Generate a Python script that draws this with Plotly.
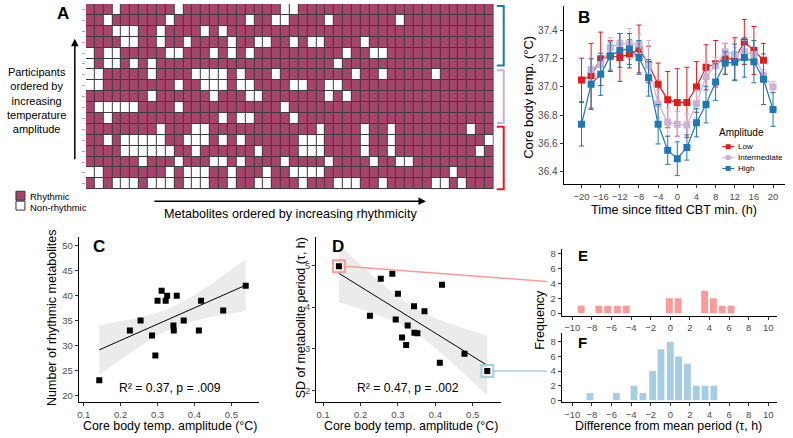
import numpy as np
import plotly.graph_objects as go

W, H = 793, 438

# ---------------- Panel A: 1 = rhythmic, 0 = non-rhythmic (rows: top = highest amplitude)
rhythm_rows = [
    "1110111111011 111111111001 111111111111 11 1111111",
    "1101111110111 111110110011 110111111101 11 1111111",
    "1110001101111 010111111111 111111111111 11 1111111",
    "1111001101101 111011001101 001111011111 11 1111111",
    "0100111110011 101010111111 111101100111 11 1111111",
    "0100101011111 111111111111 111011111111 11 1111111",
    "0011111011110 000101110111 111110110111 11 0111111",
    "0011111111011 000100111100 110011111111 11 1111111",
    "1111111011111 101110011111 110101111111 11 1111111",
    "1000001111011 111111111011 111111111111 11 1111111",
    "1101111111111 110100111101 111111111111 11 1111111",
    "1111111101110 011111111111 101111011011 11 1111011",
    "1101000001100 010101111110 001111011011 11 1111110",
    "1111000000110 111111011110 001111011011 11 1111101",
    "1111110111011 100101111011 110111101100 11 1111111",
    "0011111110100 011011101100 001111111111 11 1101111",
    "1010001000100 011011001110 111000110111 11 0010111",
]

# ---------------- Panel B
time_low = [-20, -18, -16, -14, -12, -10, -8, -6, -4, -2, 0, 2, 4, 6, 8, 10, 12, 14, 16, 18]
low_mean = [37.05, 37.08, 37.20, 37.22, 37.21, 37.235, 37.27, 37.16, 37.02, 36.91,
            36.89, 36.89, 37.00, 37.14, 37.165, 37.20, 37.20, 37.32, 37.26, 37.19]
low_err = [0.155, 0.23, 0.19, 0.11, 0.17, 0.10, 0.17, 0.13, 0.15, 0.20,
           0.24, 0.25, 0.18, 0.16, 0.165, 0.11, 0.15, 0.16, 0.17, 0.12]
time_int = [-18, -16, -14, -12, -10, -8, -6, -4, -2, 0, 2, 4, 6, 8, 10, 12, 14, 16, 18, 20]
int_mean = [37.125, 37.16, 37.28, 37.31, 37.305, 37.305, 37.15, 36.88, 36.75, 36.735,
            36.73, 36.88, 37.075, 37.15, 37.25, 37.23, 37.25, 37.23, 37.085, 37.00]
int_err = [0.08, 0.08, 0.07, 0.07, 0.11, 0.07, 0.18, 0.10, 0.10, 0.09,
           0.08, 0.10, 0.10, 0.06, 0.06, 0.05, 0.08, 0.06, 0.04, 0.04]
time_high = [-20, -18, -16, -14, -12, -10, -8, -6, -4, -2, 0, 2, 4, 6, 8, 10, 12, 14, 16, 18, 20]
high_mean = [36.735, 37.02, 37.09, 37.22, 37.26, 37.27, 37.21, 37.065, 36.735, 36.55, 36.49,
             36.57, 36.745, 36.875, 37.035, 37.17, 37.175, 37.21, 37.18, 37.055, 36.84]
high_err = [0.155, 0.18, 0.15, 0.10, 0.12, 0.11, 0.12, 0.13, 0.14, 0.10, 0.12,
            0.09, 0.10, 0.13, 0.13, 0.08, 0.13, 0.14, 0.15, 0.18, 0.12]
b_xticks = [-20, -16, -12, -8, -4, 0, 4, 8, 12, 16, 20]
b_yticks = [36.4, 36.6, 36.8, 37.0, 37.2, 37.4]

# ---------------- Panels C / D
amplitude = [0.142, 0.225, 0.254, 0.285, 0.294, 0.300, 0.311, 0.322, 0.326,
             0.343, 0.344, 0.352, 0.371, 0.412, 0.418, 0.478, 0.539]
n_rhythmic = [23, 33, 35, 32, 28, 39, 41, 39, 40, 34, 33, 40, 35, 33, 39, 37, 42]
sd_period = [4.98, 3.79, 4.68, 4.80, 3.70, 4.32, 3.27, 3.09, 3.56,
             4.02, 3.38, 3.37, 3.90, 2.66, 4.54, 2.88, 2.46]
amp_ticks = [0.1, 0.2, 0.3, 0.4, 0.5]
c_yticks = [20, 25, 30, 35, 40, 45, 50]
d_yticks = [2, 3, 4, 5]

# ---------------- Panels E / F
diff_e = [-9.1, -7.3, -6.4, -5.4, -4.5, -0.1, 0.8, 3.5, 4.4, 5.3, 6.2]
count_e = [1, 1, 1, 1, 1, 2, 2, 3, 2, 1, 1]
diff_f = [-8.2, -5.5, -3.7, -2.8, -1.8, -0.95, 0.0, 0.85, 1.75, 2.65, 3.55, 4.45]
count_f = [1, 1, 2, 1, 4, 7, 8, 6, 5, 2, 2, 2]
ef_xticks = [-10, -8, -6, -4, -2, 0, 2, 4, 6, 8, 10]
ef_yticks = [0, 2, 4, 6, 8]

# ---------------- styling
FONT = "Liberation Sans, Arial, sans-serif"
MAROON = "#A8436B"
RED, PURP, BLUE = "#E31A1C", "#CAB2D6", "#1F78B4"
PINK, LBLUE = "#FB9A99", "#A6CEE3"
TICKC = "#4D4D4D"


def xd(px):
    return px / W


def yd(py):
    return 1 - py / H


def dom_x(a, b):
    return [xd(a), xd(b)]


def dom_y(top, bottom):
    return [yd(bottom), yd(top)]


def axis(domain, rng, tickvals, fs=9.5, anchor=None, ticktext=None):
    d = dict(domain=domain, range=rng, showline=True, linecolor="black", linewidth=1,
             ticks="outside", ticklen=3, tickwidth=1, tickcolor="#333333", tickangle=0,
             tickvals=tickvals, tickfont=dict(size=fs, color=TICKC, family=FONT),
             showgrid=False, zeroline=False, fixedrange=True, anchor=anchor)
    if ticktext is not None:
        d["ticktext"] = ticktext
    return d


# axis geometry (pixels)
B_X, B_Y = (563, 785), (5, 185)
C_X, CD_Y = (77, 258), (238, 405)
D_X = (315, 500)
EF_X, E_Y, F_Y = (561, 777), (250, 318), (335, 405)
B_XR, B_YR = [-23.75, 22.5], [36.308, 37.576]
C_XR, C_YR = [0.0865, 0.576], [18.6, 51.8]
D_XR, D_YR = [0.0813, 0.575], [1.71, 5.69]
E_XR, E_YR = [-11.1, 10.9], [-0.4, 8.67]
F_YR = [-0.27, 9.22]

fig = go.Figure()

# ---- Panel A heatmap
z = [[int(ch) for ch in row.replace(" ", "")] for row in rhythm_rows]
n_rows, n_cols = len(z), len(z[0])
fig.add_trace(go.Heatmap(z=z, x=list(range(n_cols)), y=list(range(n_rows)),
                         colorscale=[[0, "#FFFFFF"], [1, MAROON]], zmin=0, zmax=1,
                         showscale=False, xgap=1, ygap=1, hoverinfo="skip",
                         xaxis="x", yaxis="y"))


# ---- Panel B
def b_trace(t, m, e, col):
    return go.Scatter(x=t, y=m, mode="lines+markers", xaxis="x2", yaxis="y2",
                      line=dict(color=col, width=1.2),
                      marker=dict(symbol="square", size=7, color=col),
                      error_y=dict(type="data", array=e, visible=True, color=col,
                                   thickness=1, width=2.5),
                      showlegend=False, hoverinfo="skip")


fig.add_trace(b_trace(time_low, low_mean, low_err, RED))
fig.add_trace(b_trace(time_int, int_mean, int_err, PURP))
fig.add_trace(b_trace(time_high, high_mean, high_err, BLUE))


# ---- regression helper
def fit_band(x, y):
    x = np.asarray(x, float)
    y = np.asarray(y, float)
    n = len(x)
    b1, b0 = np.polyfit(x, y, 1)
    xs = np.linspace(x.min(), x.max(), 80)
    yhat = b0 + b1 * xs
    resid = y - (b0 + b1 * x)
    s = np.sqrt(np.sum(resid ** 2) / (n - 2))
    sxx = np.sum((x - x.mean()) ** 2)
    se = s * np.sqrt(1 / n + (xs - x.mean()) ** 2 / sxx)
    t = 2.131
    return xs, yhat, yhat - t * se, yhat + t * se


for xa, ya, yv in (("x3", "y3", n_rhythmic), ("x4", "y4", sd_period)):
    xs, yh, lo, hi = fit_band(amplitude, yv)
    fig.add_trace(go.Scatter(x=list(xs) + list(xs[::-1]), y=list(hi) + list(lo[::-1]),
                             fill="toself", fillcolor="#EBEBEB", line=dict(width=0),
                             mode="lines", xaxis=xa, yaxis=ya, showlegend=False, hoverinfo="skip"))
    fig.add_trace(go.Scatter(x=xs, y=yh, mode="lines", line=dict(color="black", width=1),
                             xaxis=xa, yaxis=ya, showlegend=False, hoverinfo="skip"))

# highlighted participants in D
i_lo = int(np.argmin(amplitude))
i_hi = int(np.argmax(amplitude))
fig.add_trace(go.Scatter(x=[amplitude[i_lo]], y=[sd_period[i_lo]], mode="markers",
                         marker=dict(symbol="square-open", size=12, color=PINK, line=dict(width=2, color=PINK)),
                         xaxis="x4", yaxis="y4", showlegend=False, hoverinfo="skip"))
fig.add_trace(go.Scatter(x=[amplitude[i_hi]], y=[sd_period[i_hi]], mode="markers",
                         marker=dict(symbol="square-open", size=12, color=LBLUE, line=dict(width=2, color=LBLUE)),
                         xaxis="x4", yaxis="y4", showlegend=False, hoverinfo="skip"))

fig.add_trace(go.Scatter(x=amplitude, y=n_rhythmic, mode="markers", xaxis="x3", yaxis="y3",
                         marker=dict(symbol="square", size=6, color="black"),
                         showlegend=False, hoverinfo="skip"))
fig.add_trace(go.Scatter(x=amplitude, y=sd_period, mode="markers", xaxis="x4", yaxis="y4",
                         marker=dict(symbol="square", size=6, color="black"),
                         showlegend=False, hoverinfo="skip"))

# ---- Panels E / F
fig.add_trace(go.Bar(x=diff_e, y=count_e, width=0.7, marker=dict(color=PINK, line=dict(width=0)),
                     xaxis="x5", yaxis="y5", showlegend=False, hoverinfo="skip"))
fig.add_trace(go.Bar(x=diff_f, y=count_f, width=0.7, marker=dict(color=LBLUE, line=dict(width=0)),
                     xaxis="x6", yaxis="y6", showlegend=False, hoverinfo="skip"))

# ---------------- layout
layout = dict(
    width=W, height=H, margin=dict(l=0, r=0, t=0, b=0),
    paper_bgcolor="white", plot_bgcolor="white",
    font=dict(family=FONT, color="black"), showlegend=False,
    xaxis=dict(domain=dom_x(84, 493), range=[-0.5, n_cols - 0.5], visible=False, fixedrange=True),
    yaxis=dict(domain=dom_y(3, 190), range=[n_rows - 0.5, -0.5], showline=False, showgrid=False,
               zeroline=False, ticks="outside", ticklen=3, tickcolor="#AAAAAA",
               tickvals=list(range(n_rows)), showticklabels=False, fixedrange=True),
    xaxis2=axis(dom_x(*B_X), B_XR, b_xticks, fs=9.5, anchor="y2"),
    yaxis2=axis(dom_y(*B_Y), B_YR, b_yticks, fs=10, anchor="x2",
                ticktext=[f"{v:.1f}" for v in b_yticks]),
    xaxis3=axis(dom_x(*C_X), C_XR, amp_ticks, anchor="y3"),
    yaxis3=axis(dom_y(*CD_Y), C_YR, c_yticks, anchor="x3"),
    xaxis4=axis(dom_x(*D_X), D_XR, amp_ticks, anchor="y4"),
    yaxis4=axis(dom_y(*CD_Y), D_YR, d_yticks, anchor="x4"),
    xaxis5=axis(dom_x(*EF_X), E_XR, ef_xticks, anchor="y5"),
    yaxis5=axis(dom_y(*E_Y), E_YR, ef_yticks, anchor="x5"),
    xaxis6=axis(dom_x(*EF_X), E_XR, ef_xticks, anchor="y6"),
    yaxis6=axis(dom_y(*F_Y), F_YR, ef_yticks, anchor="x6"),
)

shapes = []
# heatmap grid-line background
shapes.append(dict(type="rect", xref="x", yref="y", x0=-0.5, x1=n_cols - 0.5, y0=-0.5, y1=n_rows - 0.5,
                   fillcolor="#3C3C3C", line=dict(width=0), layer="below"))


def bracket(top, bottom, col):
    x0, x1 = xd(496), xd(503)
    return dict(type="path", xref="paper", yref="paper",
                path=f"M {x0},{yd(top)} L {x1},{yd(top)} L {x1},{yd(bottom)} L {x0},{yd(bottom)}",
                line=dict(color=col, width=2))


shapes += [bracket(5, 65, BLUE), bracket(70, 123, PURP), bracket(127, 190, RED)]

# A legend swatches
shapes.append(dict(type="rect", xref="paper", yref="paper", x0=xd(14), x1=xd(23), y0=yd(201), y1=yd(192),
                   fillcolor=MAROON, line=dict(color="#333333", width=1)))
shapes.append(dict(type="rect", xref="paper", yref="paper", x0=xd(14), x1=xd(23), y0=yd(211), y1=yd(202),
                   fillcolor="white", line=dict(color="#333333", width=1)))

# B manual legend glyphs
for yy, col in ((147, RED), (158, PURP), (169, BLUE)):
    shapes.append(dict(type="line", xref="paper", yref="paper", x0=xd(722), x1=xd(734), y0=yd(yy), y1=yd(yy),
                       line=dict(color=col, width=1.2)))
    shapes.append(dict(type="rect", xref="paper", yref="paper", x0=xd(725.5), x1=xd(730.5), y0=yd(yy + 2.5),
                       y1=yd(yy - 2.5), fillcolor=col, line=dict(width=0)))


# connectors from D highlights to E / F (derived from data through D's axis mapping)
def d_px(xv, yv):
    px = D_X[0] + (xv - D_XR[0]) / (D_XR[1] - D_XR[0]) * (D_X[1] - D_X[0])
    py = CD_Y[1] - (yv - D_YR[0]) / (D_YR[1] - D_YR[0]) * (CD_Y[1] - CD_Y[0])
    return px, py


px, py = d_px(amplitude[i_lo], sd_period[i_lo])
shapes.append(dict(type="line", xref="paper", yref="paper", x0=xd(px + 6), y0=yd(py), x1=xd(546), y1=yd(283),
                   line=dict(color=PINK, width=1.5)))
px, py = d_px(amplitude[i_hi], sd_period[i_hi])
shapes.append(dict(type="line", xref="paper", yref="paper", x0=xd(px + 6), y0=yd(py), x1=xd(546), y1=yd(py),
                   line=dict(color=LBLUE, width=1.5)))
layout["shapes"] = shapes


def txt(x, y, s, size, xanchor="center", yanchor="middle", color="black", angle=0, bold=False):
    if bold:
        s = f"<b>{s}</b>"
    return dict(x=xd(x), y=yd(y), xref="paper", yref="paper", text=s, showarrow=False,
                font=dict(size=size, color=color, family=FONT), xanchor=xanchor, yanchor=yanchor,
                textangle=angle, borderpad=0)


ann = [
    txt(61, 13, "A", 17, bold=True),
    txt(583, 17, "B", 17, bold=True),
    txt(97, 248, "C", 17, bold=True),
    txt(337, 248, "D", 17, bold=True),
    txt(582, 257, "E", 15, bold=True),
    txt(582, 345, "F", 15, bold=True),
    txt(35, 100, "Participants<br>ordered by<br>increasing<br>temperature<br>amplitude", 11),
    txt(27, 197, "Rhythmic", 9.5, xanchor="left"),
    txt(27, 208, "Non-rhythmic", 9.5, xanchor="left"),
    txt(289, 215, "Metabolites ordered by increasing rhythmicity", 12.6),
    txt(527, 97, "Core body temp. (°C)", 13, angle=-90),
    txt(674, 211, "Time since fitted CBT min. (h)", 12.6),
    txt(718, 133, "Amplitude", 10, xanchor="left"),
    txt(737, 147, "Low", 8, xanchor="left"),
    txt(737, 158, "Intermediate", 8, xanchor="left"),
    txt(737, 169, "High", 8, xanchor="left"),
    txt(50, 320, "Number of rhythmic metabolites", 12.5, angle=-90),
    txt(168, 391, "R² = 0.37, p = .009", 12.2),
    txt(168, 437, "Core body temp. amplitude (°C)", 12.4, yanchor="bottom"),
    txt(300, 320, "SD of metabolite period (τ, h)", 12.5, angle=-90),
    txt(407, 391, "R² = 0.47, p = .002", 12.2),
    txt(410, 437, "Core body temp. amplitude (°C)", 12.4, yanchor="bottom"),
    txt(539, 322, "Frequency", 12.5, angle=-90),
    txt(668, 437, "Difference from mean period (τ, h)", 12.4, yanchor="bottom"),
]
# arrows
ann.append(dict(x=xd(73), y=yd(38), xref="paper", yref="paper", ax=0, ay=122, axref="pixel", ayref="pixel",
                text="", showarrow=True, arrowhead=2, arrowsize=1, arrowwidth=1.5, arrowcolor="black"))
ann.append(dict(x=xd(425), y=yd(202), xref="paper", yref="paper", ax=-273, ay=0, axref="pixel", ayref="pixel",
                text="", showarrow=True, arrowhead=2, arrowsize=1, arrowwidth=1.5, arrowcolor="black"))
layout["annotations"] = ann

fig.update_layout(**layout)
fig.write_html("out.html", config={"displayModeBar": False, "staticPlot": True},
               post_script="document.body.style.margin='0';document.body.style.overflow='hidden';")
